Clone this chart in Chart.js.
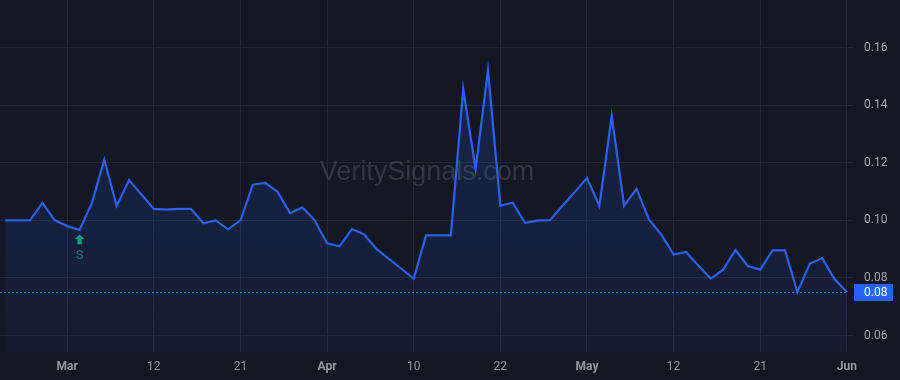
<!DOCTYPE html>
<html>
<head>
<meta charset="utf-8">
<script src="https://cdn.jsdelivr.net/npm/chart.js@4"></script>
<style>
  html, body { margin: 0; padding: 0; background: #131722; }
  #wrap { width: 900px; height: 380px; position: relative; }
</style>
</head>
<body>
<div id="wrap"><canvas id="chart"></canvas></div>
<script>
/* price series, one point per bar (index based x axis) */
const prices = [
  0.100, 0.100, 0.100, 0.1061, 0.100, 0.098, 0.0967, 0.1061, 0.1211, 0.105,
  0.114, 0.109, 0.104, 0.1037, 0.104, 0.104, 0.099, 0.100, 0.0969, 0.100,
  0.1124, 0.113, 0.1099, 0.1025, 0.1045, 0.100, 0.092, 0.091, 0.097, 0.0951,
  0.090, 0.0866, 0.0832, 0.0798, 0.0948, 0.0948, 0.0948, 0.1455, 0.1178, 0.1521,
  0.1051, 0.1061, 0.0991, 0.100, 0.100, 0.105, 0.1098, 0.1147, 0.105, 0.1363,
  0.105, 0.111, 0.1003, 0.0951, 0.0881, 0.089, 0.0843, 0.0798, 0.0829, 0.0897,
  0.0841, 0.0829, 0.0896, 0.0896, 0.0751, 0.0849, 0.0869, 0.0796, 0.0751
];
const xTickIdx  = [5, 12, 19, 26, 33, 40, 47, 54, 61, 68];
const xTickText = ['Mar', '12', '21', 'Apr', '10', '22', 'May', '12', '21', 'Jun'];
const monthLabels = ['Mar', 'Apr', 'May', 'Jun'];
const yTicks = [0.06, 0.08, 0.10, 0.12, 0.14, 0.16];
const signalIdx = 6;      // "S" marker bar
const signalText = 'S';
const watermark = 'VeritySignals.com';

const BLUE = '#2962ff';
const GRID = '#232733';
const TXT = '#9598a1';
const FONT = "Roboto, 'Liberation Sans', sans-serif";

const points = prices.map((v, i) => ({ x: i, y: v }));
const tickMap = {};
xTickIdx.forEach((v, i) => { tickMap[v] = xTickText[i]; });

/* watermark, signal marker, last price line + tag */
const overlay = {
  id: 'overlay',
  beforeDatasetsDraw(chart) {
    const { ctx } = chart;
    ctx.save();
    ctx.font = `27px 'Liberation Sans', Arial, sans-serif`;
    ctx.fillStyle = 'rgba(140,145,160,0.26)';
    ctx.textAlign = 'center';
    ctx.textBaseline = 'middle';
    ctx.fillText(watermark, 427, 173);
    ctx.restore();
  },
  afterDatasetsDraw(chart) {
    const { ctx, chartArea: a, scales: { x, y } } = chart;
    const last = prices[prices.length - 1];
    const py = Math.round(y.getPixelForValue(last)) + 0.5;

    ctx.save();
    // dotted last-price line
    ctx.strokeStyle = '#3a6dff';
    ctx.lineWidth = 1.2;
    ctx.setLineDash([2, 2]);
    ctx.beginPath();
    ctx.moveTo(a.left, py);
    ctx.lineTo(a.right, py);
    ctx.stroke();
    ctx.setLineDash([]);

    // price tag on the axis
    ctx.fillStyle = BLUE;
    ctx.fillRect(a.right + 6, py - 8.5, 39, 17);
    ctx.fillStyle = '#ffffff';
    ctx.font = `12px ${FONT}`;
    ctx.textAlign = 'left';
    ctx.textBaseline = 'middle';
    ctx.fillText(last.toFixed(2), a.right + 16, py);

    // buy signal arrow + letter
    const sx = x.getPixelForValue(signalIdx);
    const sy = y.getPixelForValue(prices[signalIdx]) + 4.5;
    ctx.fillStyle = '#089981';
    ctx.beginPath();
    ctx.moveTo(sx, sy);
    ctx.lineTo(sx + 5, sy + 5);
    ctx.lineTo(sx + 2.2, sy + 5);
    ctx.lineTo(sx + 2.2, sy + 10);
    ctx.lineTo(sx - 2.2, sy + 10);
    ctx.lineTo(sx - 2.2, sy + 5);
    ctx.lineTo(sx - 5, sy + 5);
    ctx.closePath();
    ctx.fill();
    ctx.fillStyle = '#15807a';
    ctx.font = `13px ${FONT}`;
    ctx.textAlign = 'center';
    ctx.fillText(signalText, sx, sy + 21);
    ctx.restore();
  }
};

new Chart(document.getElementById('chart').getContext('2d'), {
  type: 'line',
  data: {
    datasets: [{
      data: points,
      borderColor: BLUE,
      borderWidth: 2.2,
      pointRadius: 0,
      tension: 0,
      fill: 'start',
      backgroundColor: (c) => {
        const area = c.chart.chartArea;
        if (!area) return 'rgba(41,98,255,0.12)';
        const g = c.chart.ctx.createLinearGradient(0, area.top, 0, area.bottom);
        g.addColorStop(0, 'rgba(41,98,255,0.24)');
        g.addColorStop(1, 'rgba(41,98,255,0.06)');
        return g;
      },
    }],
  },
  options: {
    responsive: true,
    maintainAspectRatio: false,
    animation: false,
    devicePixelRatio: 1,
    layout: { padding: 0, autoPadding: false },
    plugins: { legend: { display: false }, tooltip: { enabled: false } },
    scales: {
      x: {
        type: 'linear',
        min: -0.428,
        max: 68.09,
        afterBuildTicks: (s) => { s.ticks = xTickIdx.map((v) => ({ value: v })); },
        afterFit: (s) => { s.height = 28; s.paddingLeft = 0; s.paddingRight = 0; },
        grid: { color: GRID, drawTicks: false },
        border: { display: false },
        ticks: {
          padding: 8,
          color: TXT,
          maxRotation: 0,
          autoSkip: false,
          font: (c) => ({
            family: FONT, size: 12,
            weight: monthLabels.includes(tickMap[c.tick && c.tick.value]) ? 'bold' : 'normal'
          }),
          callback: (v) => tickMap[v] || '',
        },
      },
      y: {
        position: 'right',
        min: 0.0543,
        max: 0.1765,
        afterBuildTicks: (s) => { s.ticks = yTicks.map((v) => ({ value: v })); },
        afterFit: (s) => { s.width = 52; s.paddingTop = 0; s.paddingBottom = 0; },
        grid: { color: GRID, tickLength: 5 },
        border: { display: false },
        ticks: {
          padding: 11,
          color: '#a3a6af',
          font: { family: FONT, size: 12 },
          callback: (v) => v.toFixed(2),
        },
      },
    },
  },
  plugins: [overlay],
});
</script>
</body>
</html>
